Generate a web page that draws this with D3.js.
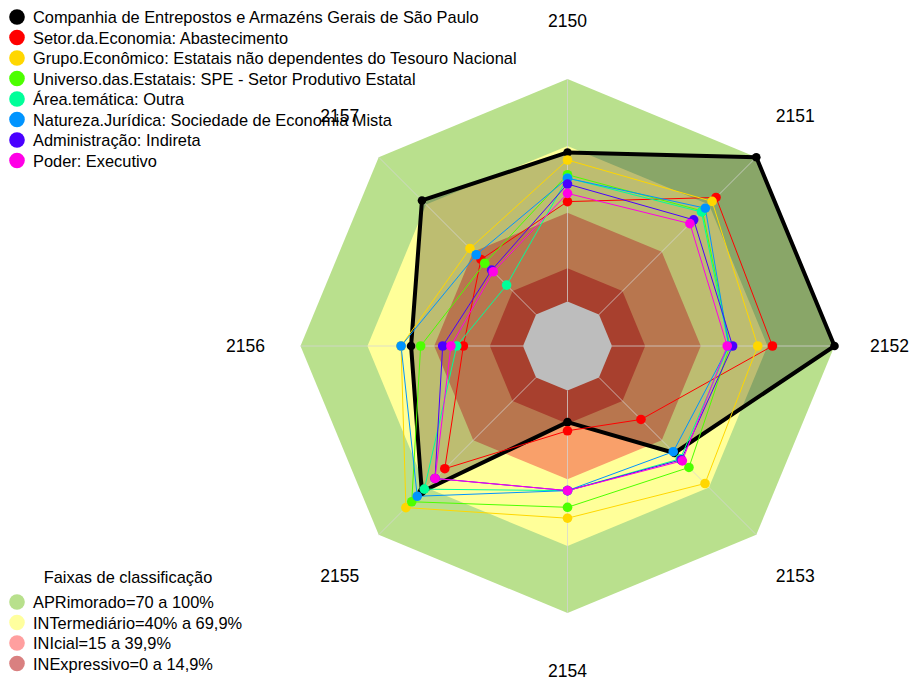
<!DOCTYPE html>
<meta charset="utf-8">
<head>
<style>
body { margin: 0; background: #fff; }
text { font-family: Arial, "Liberation Sans", sans-serif; fill: #000; }
</style>
</head>
<body>
<svg width="909" height="678"></svg>
<script src="https://cdn.jsdelivr.net/npm/d3@7"></script>
<script>

// eixos (indicadores)
var eixos = ["2150", "2151", "2152", "2153", "2154", "2155", "2156", "2157"];

// series
var nomes = [
  "Companhia de Entrepostos e Armazéns Gerais de São Paulo",
  "Setor.da.Economia: Abastecimento",
  "Grupo.Econômico: Estatais não dependentes do Tesouro Nacional",
  "Universo.das.Estatais: SPE - Setor Produtivo Estatal",
  "Área.temática: Outra",
  "Natureza.Jurídica: Sociedade de Economia Mista",
  "Administração: Indireta",
  "Poder: Executivo"
];
var cores = ["#000000", "#ff0000", "#ffd700", "#4cff00", "#00ff99", "#0094ff", "#4a00ff", "#ff00e6"];

var vCompanhia = [67.0, 100, 100, 48.0, 14.2, 72.6, 50.3, 72.5];
var vSetor     = [44.9, 74.4, 72.1, 26.7, 18.1, 58.0, 26.8, 35.0];
var vGrupo     = [63.6, 71.9, 65.5, 67.4, 57.4, 82.7, 54.8, 42.0];
var vUniverso  = [57.0, 65.8, 53.0, 57.2, 52.5, 79.0, 46.0, 32.6];
var vArea      = [55.5, 65.2, 52.5, 51.7, 45.0, 71.0, 29.8, 18.7];
var vNatureza  = [55.4, 67.6, 52.5, 47.2, 45.0, 75.5, 54.8, 38.0];
var vAdmin     = [52.8, 60.2, 54.2, 52.3, 45.0, 64.2, 36.1, 28.2];
var vPoder     = [48.6, 57.8, 51.8, 53.0, 45.0, 64.2, 32.4, 27.2];

// faixas de classificacao
var faixas = ["APRimorado=70 a 100%", "INTermediário=40% a 69,9%", "INIcial=15 a 39,9%", "INExpressivo=0 a 14,9%"];
var faixasMax = [100, 69.9, 39.9, 14.9];
var faixasCor = ["#b9e08d", "#ffff99", "#f9a06a", "#e3573e"];
var faixasLegCor = ["#b8e08c", "#ffff9e", "#ff9f9f", "#d98080"];

var valores = [vCompanhia, vSetor, vGrupo, vUniverso, vArea, vNatureza, vAdmin, vPoder];

var svg = d3.select("svg"),
    width = +svg.attr("width"),
    height = +svg.attr("height");

var cx = 567.5, cy = 346, R = 267;

// centerzero = FALSE -> 0 fica em R/6
var r = d3.scaleLinear().domain([0, 100]).range([R / 6, R]);
var ang = d3.scalePoint().domain(eixos.concat(["_"])).range([0, 2 * Math.PI]);

var radar = d3.lineRadial()
    .angle(function(d, i) { return ang(eixos[i]); })
    .radius(function(d) { return r(d); })
    .curve(d3.curveLinearClosed);

var g = svg.append("g").attr("transform", "translate(" + cx + "," + cy + ")");

// faixas
g.selectAll(".faixa")
  .data(faixasMax)
  .enter().append("path")
    .attr("class", "faixa")
    .attr("d", function(d) { return radar(eixos.map(function() { return d; })); })
    .attr("fill", function(d, i) { return faixasCor[i]; });

g.append("path")
    .attr("d", radar(eixos.map(function() { return 0; })))
    .attr("fill", "#ffffff");

// preenchimento so da primeira serie
g.append("path")
    .attr("d", radar(vCompanhia))
    .attr("fill", "#000")
    .attr("fill-opacity", 0.26);

// eixos
g.selectAll(".eixo")
  .data(eixos)
  .enter().append("line")
    .attr("class", "eixo")
    .attr("x1", function(d) { return r(0) * Math.sin(ang(d)); })
    .attr("y1", function(d) { return -r(0) * Math.cos(ang(d)); })
    .attr("x2", function(d) { return r(100) * Math.sin(ang(d)); })
    .attr("y2", function(d) { return -r(100) * Math.cos(ang(d)); })
    .style("stroke", "#d4d4d4")
    .style("stroke-opacity", 0.75)
    .style("stroke-width", 1);

// linhas e pontos das series
valores.forEach(function(vals, k) {
  g.append("path")
      .attr("d", radar(vals))
      .attr("fill", "none")
      .attr("stroke", cores[k])
      .attr("stroke-width", k == 0 ? 4 : 1)
      .attr("stroke-linejoin", "round");
});

valores.forEach(function(vals, k) {
  g.selectAll(".pt" + k)
    .data(vals)
    .enter().append("circle")
      .attr("class", "pt" + k)
      .attr("cx", function(d, i) { return r(d) * Math.sin(ang(eixos[i])); })
      .attr("cy", function(d, i) { return -r(d) * Math.cos(ang(eixos[i])); })
      .attr("r", k == 0 ? 4.3 : 4.8)
      .attr("fill", cores[k]);
});

// rotulos dos eixos
g.selectAll(".rot")
  .data(eixos)
  .enter().append("text")
    .attr("class", "rot")
    .attr("x", function(d) { return 322 * Math.sin(ang(d)); })
    .attr("y", function(d) { return -325 * Math.cos(ang(d)); })
    .attr("text-anchor", "middle")
    .attr("dominant-baseline", "central")
    .style("font-size", "17.5px")
    .text(function(d) { return d; });

// legenda das series
var leg = svg.append("g");
leg.selectAll("circle")
  .data(nomes)
  .enter().append("circle")
    .attr("cx", 17)
    .attr("cy", function(d, i) { return 17 + i * 20.5; })
    .attr("r", 7.8)
    .attr("fill", function(d, i) { return cores[i]; });
leg.selectAll("text")
  .data(nomes)
  .enter().append("text")
    .attr("x", 33)
    .attr("y", function(d, i) { return 17 + i * 20.5; })
    .attr("dominant-baseline", "central")
    .style("font-size", "16.4px")
    .text(function(d) { return d; });

// legenda das faixas
var leg2 = svg.append("g");
leg2.append("text")
    .attr("x", 128)
    .attr("y", 577)
    .attr("text-anchor", "middle")
    .attr("dominant-baseline", "central")
    .style("font-size", "16.4px")
    .text("Faixas de classificação");
leg2.selectAll("circle")
  .data(faixas)
  .enter().append("circle")
    .attr("cx", 17)
    .attr("cy", function(d, i) { return 602 + i * 20.5; })
    .attr("r", 7.8)
    .attr("fill", function(d, i) { return faixasLegCor[i]; });
leg2.selectAll(".ft")
  .data(faixas)
  .enter().append("text")
    .attr("class", "ft")
    .attr("x", 33)
    .attr("y", function(d, i) { return 602 + i * 20.5; })
    .attr("dominant-baseline", "central")
    .style("font-size", "16.4px")
    .text(function(d) { return d; });

</script>
</body>
